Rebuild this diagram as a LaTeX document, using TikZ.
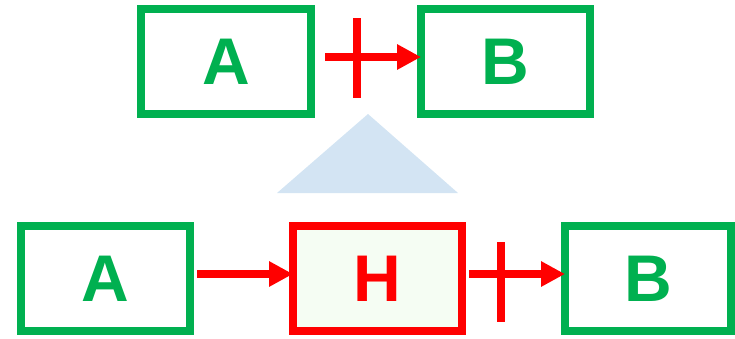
\documentclass[tikz,border=0pt]{standalone}
\usepackage{fontspec}
\setmainfont{Liberation Sans}
\usetikzlibrary{arrows.meta}
\definecolor{grn}{RGB}{0,176,80}
\definecolor{rd}{RGB}{255,0,0}
\definecolor{tri}{RGB}{211,228,243}
\definecolor{hfill}{RGB}{245,253,243}
\begin{document}
\begin{tikzpicture}[x=1pt,y=-1pt,
  box/.style={draw=grn,line width=8pt,minimum width=169pt,minimum height=105pt,inner sep=0pt,outer sep=0pt,
    font=\fontsize{66}{66}\selectfont\bfseries,text=grn},
  hbox/.style={box,draw=rd,fill=hfill,text=rd},
  conn/.style={draw=rd,line width=8pt,-{Triangle[length=24pt 0 0,width=24pt 0 0]}},
  xmark/.style={draw=rd,line width=8pt}]
\useasboundingbox (0,0) rectangle (735,338);
\fill[tri] (368,114) -- (458,193) -- (277,193) -- cycle;
% top row
\node[box,minimum width=170pt] (tA) at (226,61.5) {A};
\node[box] (tB) at (505.5,61.5) {B};
\coordinate (tl) at (0,57);
\draw[conn,shorten <=14pt] (tA.east |- tl) -- (tB.west |- tl);
\coordinate (tx1) at (357,18);
\coordinate (tx2) at (357,98);
\draw[xmark] (tx1) -- (tx2);
% bottom row
\node[box] (bA) at (105.5,278.5) {A};
\node[hbox] (bH) at (377.5,278.5) {H};
\node[box,minimum width=166pt] (bB) at (648,278.5) {B};
\coordinate (bl) at (0,274);
\draw[conn,shorten <=7pt] (bA.east |- bl) -- (bH.west |- bl);
\draw[conn,shorten <=7pt] (bH.east |- bl) -- (bB.west |- bl);
\coordinate (bx1) at (501,242);
\coordinate (bx2) at (501,322);
\draw[xmark] (bx1) -- (bx2);
\end{tikzpicture}
\end{document}
